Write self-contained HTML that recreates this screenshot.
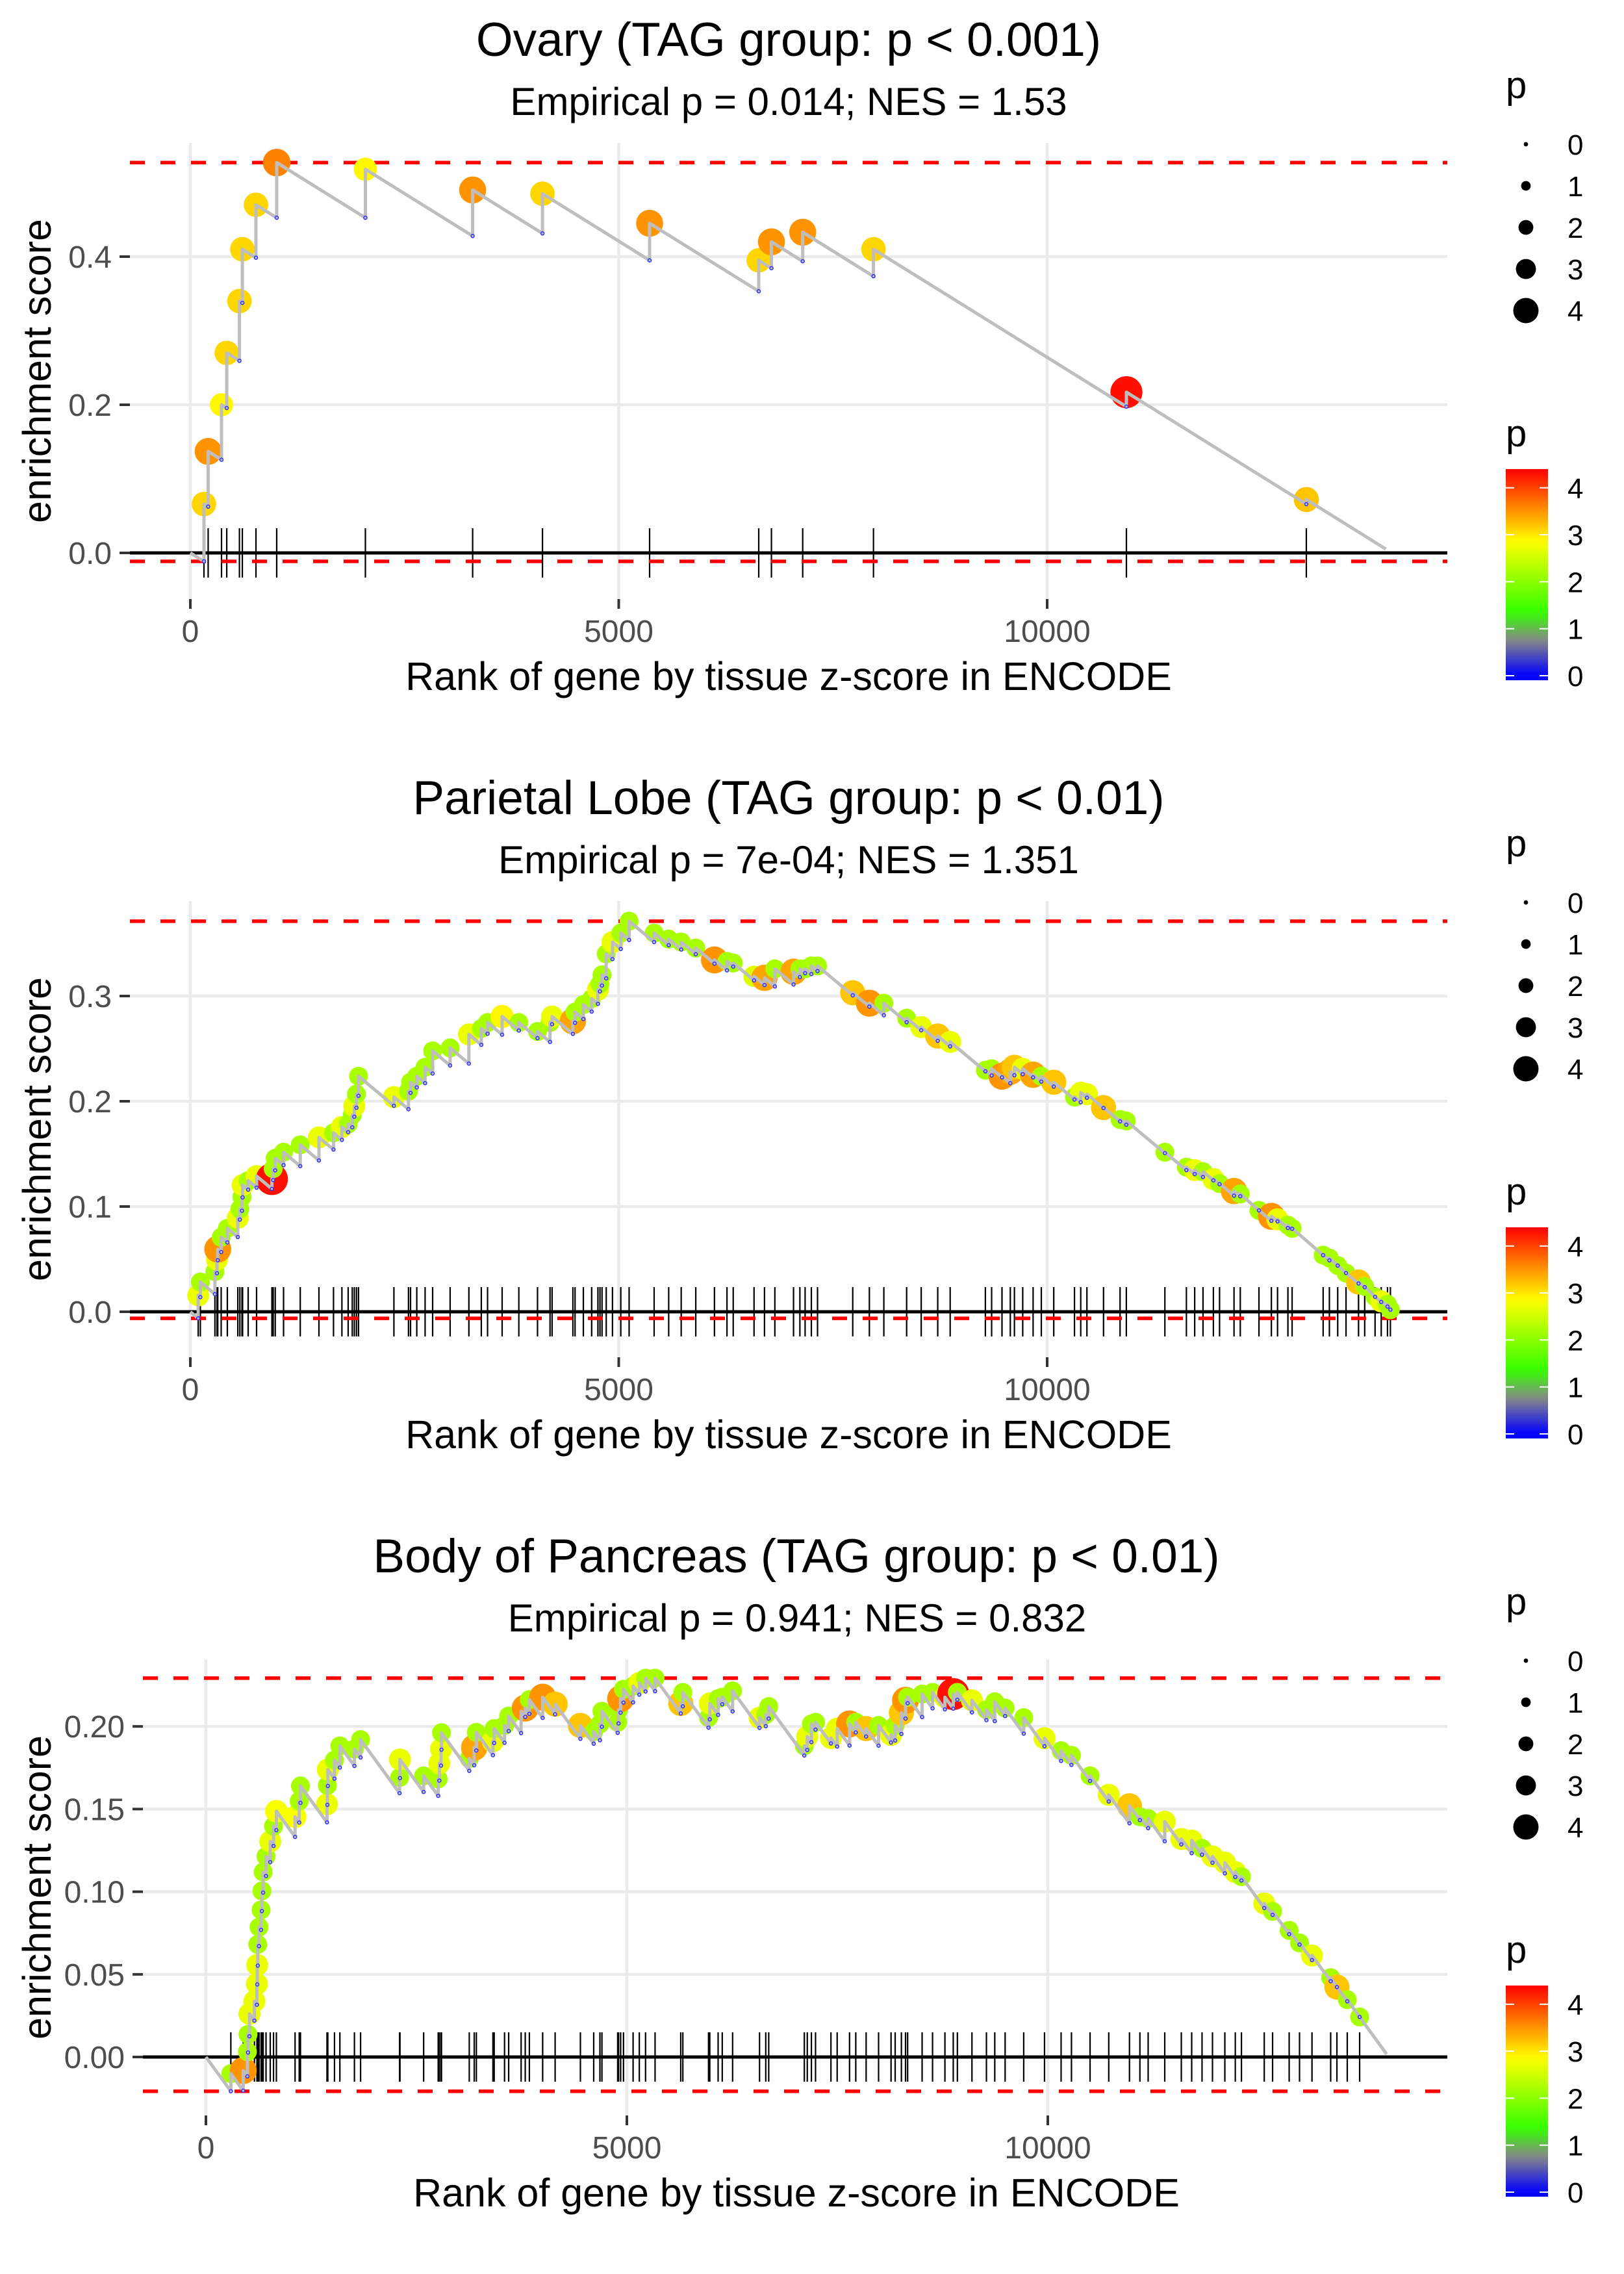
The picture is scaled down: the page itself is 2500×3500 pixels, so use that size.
<!DOCTYPE html>
<html><head><meta charset="utf-8">
<style>
html,body{margin:0;padding:0;background:#fff;}
svg{display:block;font-family:"Liberation Sans",Arial,sans-serif;}
</style></head>
<body>
<svg id="chart" xmlns="http://www.w3.org/2000/svg" width="2500" height="3500" viewBox="0 0 2500 3500">
<defs>
<linearGradient id="pgrad" x1="0" y1="1" x2="0" y2="0"></linearGradient>
</defs>
<rect x="0" y="0" width="2500" height="3500" fill="#fff"/>
<g>
<text x="1214" y="86" font-size="73" text-anchor="middle">Ovary (TAG group: p &lt; 0.001)</text>
<text x="1214" y="177" font-size="60" text-anchor="middle">Empirical p = 0.014; NES = 1.53</text>
<text x="1214" y="1062" font-size="61" text-anchor="middle">Rank of gene by tissue z-score in ENCODE</text>
<text transform="translate(78,571) rotate(-90)" font-size="61" text-anchor="middle">enrichment score</text>
</g>
<g>
<text x="1214" y="1253" font-size="73" text-anchor="middle">Parietal Lobe (TAG group: p &lt; 0.01)</text>
<text x="1214" y="1344" font-size="60" text-anchor="middle">Empirical p = 7e-04; NES = 1.351</text>
<text x="1214" y="2229" font-size="61" text-anchor="middle">Rank of gene by tissue z-score in ENCODE</text>
<text transform="translate(78,1738) rotate(-90)" font-size="61" text-anchor="middle">enrichment score</text>
</g>
<g>
<text x="1226" y="2420" font-size="73" text-anchor="middle">Body of Pancreas (TAG group: p &lt; 0.01)</text>
<text x="1227" y="2511" font-size="60" text-anchor="middle">Empirical p = 0.941; NES = 0.832</text>
<text x="1226" y="3396" font-size="61" text-anchor="middle">Rank of gene by tissue z-score in ENCODE</text>
<text transform="translate(78,2905) rotate(-90)" font-size="61" text-anchor="middle">enrichment score</text>
</g>
</svg>
<script>
// ---------- data ----------
const xTickValues = [0, 5000, 10000];
const xTickLabels = ['0', '5000', '10000'];
const legendSizeValues = [0, 1, 2, 3, 4];
const legendColorValues = [0, 1, 2, 3, 4];

const p1YTicks = [0, 0.2, 0.4];
const p1YLabels = ['0.0', '0.2', '0.4'];
const p1Rank = [159,208,364,425,573,607,766,1008,2043,3295,4110,5360,6634,6782,7147,7973,10925,13025];
const p1ES = [0.066,0.137,0.200,0.270,0.340,0.410,0.470,0.527,0.518,0.490,0.485,0.445,0.395,0.420,0.433,0.410,0.217,0.072];
const p1P = [3.1,3.5,2.9,3.1,3.1,3.1,3.1,3.6,2.9,3.5,3.1,3.5,3.1,3.5,3.5,3.1,4.3,3.2];
const p1End = 13953;

const p2YTicks = [0, 0.1, 0.2, 0.3];
const p2YLabels = ['0.0', '0.1', '0.2', '0.3'];
const p2Rank = [92,117,287,311,320,360,432,554,578,603,610,675,773,952,967,991,1088,1283,1501,1671,1769,1842,1890,1914,1939,1963,
2376,2546,2570,2643,2740,2828,3032,3251,3396,3469,3639,3834,4052,4198,4222,4465,4490,4587,4684,4757,4781,4805,4854,4927,5024,5121,
5413,5583,5729,5899,6117,6263,6336,6579,6701,6822,7040,7114,7175,7248,7320,7731,7925,8094,8360,8530,8723,8868,
9279,9352,9473,9570,9618,9715,9836,9932,10077,10319,10392,10464,10658,10851,10924,11374,11625,11722,11819,11940,12012,12181,12254,
12472,12617,12689,12810,12859,13221,13294,13391,13488,13634,13706,13827,13899,13972,14006];
const p2ES = [0.0156,0.0283,0.0382,0.0496,0.0595,0.0708,0.0793,0.0892,0.0977,0.1091,0.1204,0.1246,0.1289,0.1261,0.136,0.1459,0.1516,0.1586,0.1657,0.170,0.1756,0.1785,0.187,0.1955,0.2068,0.2238,
0.204,0.2096,0.2181,0.2238,0.2323,0.2479,0.2507,0.2635,0.2691,0.2748,0.2805,0.2748,0.2663,0.2748,0.2805,0.2762,0.2847,0.2918,0.2975,0.306,0.3116,0.3201,0.34,0.3513,0.3598,0.3711,
0.3598,0.3541,0.3513,0.3456,0.3343,0.3329,0.3314,0.3187,0.3173,0.3258,0.323,0.3258,0.3258,0.3286,0.3286,0.3031,0.2932,0.2932,0.279,0.2705,0.262,0.2564,
0.2295,0.2309,0.2238,0.228,0.2323,0.2309,0.2252,0.2238,0.2181,0.204,0.2082,0.2068,0.194,0.1827,0.1813,0.1516,0.1374,0.1346,0.1331,0.1261,0.1218,0.1147,0.1119,
0.0963,0.0907,0.0878,0.0822,0.0793,0.0538,0.051,0.0439,0.0368,0.0283,0.0241,0.0142,0.0099,0.0071,0.002];
const p2P = [2.7,2.2,2.2,2.7,3.5,2.2,2.2,2.7,2.2,2.2,2.7,2.2,2.7,4.3,2.2,2.2,2.2,2.2,2.7,2.2,2.7,2.2,2.2,2.7,2.2,2.2,
2.7,2.2,2.2,2.2,2.2,2.2,2.2,2.7,2.2,2.2,2.9,2.2,2.2,2.2,2.7,3.4,2.2,2.2,2.2,2.7,2.2,2.2,2.2,2.7,2.2,2.2,
2.2,2.2,2.2,2.2,3.5,2.2,2.2,2.6,3.4,2.2,3.4,2.2,2.2,2.2,2.2,3.2,3.5,2.2,2.2,2.7,3.2,2.7,
2.2,2.2,3.5,3.4,3.2,2.7,3.4,2.2,3.2,2.2,2.7,2.7,3.2,2.2,2.2,2.2,2.2,2.7,2.2,2.7,2.2,3.4,2.2,
2.2,3.5,2.7,2.2,2.2,2.2,2.2,2.2,2.2,3.2,2.2,2.2,2.7,2.2,2.2];
const p2End = 14030;

const p3YTicks = [0, 0.05, 0.1, 0.15, 0.2];
const p3YLabels = ['0.00', '0.05', '0.10', '0.15', '0.20'];
const p3Rank = [296,443,493,500,517,576,606,610,616,631,655,665,680,714,764,803,837,1059,1108,1123,1438,1443,1448,1527,1591,1764,1837,
2300,2305,2586,2759,2773,2793,2798,3128,3187,3212,3409,3424,3547,3596,3744,3793,3842,4000,4148,4448,4606,4680,4704,4891,4901,4926,4960,5074,5148,5222,5335,
5640,5665,5970,5985,6084,6133,6256,6576,6650,6685,7108,7143,7192,7241,7424,7498,7645,7719,7842,7990,8138,8187,8261,8310,8335,8507,8631,8778,8877,8926,
9099,9271,9370,9493,9714,9961,10158,10281,10502,10724,10970,11094,11192,11389,11586,11709,11832,11956,12103,12227,12300,12571,12670,12867,12990,13138,13360,13434,13557,13704];
const p3ES = [-0.0101,-0.0082,0.0032,0.0137,0.0261,0.0337,0.0442,0.0557,0.0681,0.0786,0.089,0.1005,0.1119,0.1214,0.1304,0.1396,0.1487,0.1453,0.1548,0.164,0.1529,0.1643,0.1739,0.1796,0.1882,0.1863,0.192,
0.1691,0.18,0.1701,0.1682,0.1777,0.1863,0.1962,0.1806,0.1872,0.1964,0.191,0.1987,0.2006,0.2063,0.2092,0.2111,0.2162,0.2177,0.2135,0.2006,0.1968,0.2015,0.2092,0.2025,0.2101,0.2168,0.2225,0.2244,0.2263,0.2292,0.2292,
0.2139,0.2206,0.2053,0.2139,0.2168,0.2177,0.2215,0.2053,0.2072,0.212,0.1882,0.1939,0.2015,0.2025,0.193,0.1987,0.2015,0.2025,0.1987,0.2006,0.1949,0.2006,0.2082,0.2158,0.2177,0.2196,0.2206,0.2177,0.2196,0.2206,
0.2158,0.2101,0.2149,0.2111,0.2053,0.1929,0.1853,0.1825,0.1701,0.1586,0.152,0.1453,0.1443,0.1424,0.1319,0.131,0.1262,0.1214,0.1176,0.1119,0.1091,0.0929,0.0881,0.0766,0.069,0.0614,0.048,0.0423,0.0347,0.0242];
const p3P = [2.2,3.5,2.2,2.2,2.7,2.7,2.7,2.7,2.2,2.2,2.2,2.2,2.2,2.2,2.7,2.2,2.8,2.8,2.2,2.2,2.7,2.2,2.7,2.2,2.2,2.2,2.2,
2.2,2.7,2.2,2.2,2.7,2.7,2.2,2.2,3.4,2.2,2.7,2.2,2.2,2.2,2.2,3.5,2.2,3.5,3.2,3.2,2.2,2.2,2.2,2.2,2.2,3.5,2.2,2.2,2.7,2.2,2.2,
3.2,2.2,2.2,2.7,2.2,2.2,2.2,2.7,2.2,2.2,2.2,2.7,2.2,2.2,2.7,2.7,3.5,2.2,3.2,2.2,2.7,2.2,3.2,3.5,2.2,2.2,2.2,2.7,4.3,2.2,
2.7,2.2,2.2,2.2,2.2,2.7,2.2,2.2,2.2,2.7,3.2,2.2,2.2,2.7,2.7,2.7,2.2,2.7,2.7,2.7,2.2,2.7,2.2,2.2,2.2,2.7,2.2,3.2,2.2,2.2];
const p3End = 14025;

// ---------- helpers ----------
const NS = 'http://www.w3.org/2000/svg';
const svg = document.getElementById('chart');
function mk(tag, attrs, parent) {
  const e = document.createElementNS(NS, tag);
  for (const k in attrs) e.setAttribute(k, attrs[k]);
  parent.appendChild(e);
  return e;
}
const colStops = [[0,[0,0,255]],[0.75,[136,136,136]],[1.35,[51,255,0]],[2.85,[255,255,0]],[4.39,[255,0,0]]];
function pColor(v) {
  if (v <= colStops[0][0]) return 'rgb(0,0,255)';
  for (let i = 1; i < colStops.length; i++) {
    if (v <= colStops[i][0]) {
      const a = colStops[i-1], b = colStops[i];
      const t = (v - a[0]) / (b[0] - a[0]);
      const c = a[1].map((x, j) => Math.round(x + (b[1][j] - x) * t));
      return 'rgb(' + c.join(',') + ')';
    }
  }
  return 'rgb(255,0,0)';
}
function pRadius(v) { return 3.5 + 4.25 * v; }
function dotRadius(v) { return 4 + 4.8 * v; }

const grad = document.getElementById('pgrad');
for (let i = 0; i <= 30; i++) {
  const v = -0.1 + (4.49 * i / 30);
  mk('stop', {offset: (i / 30).toFixed(4), 'stop-color': pColor(v)}, grad);
}

function drawPanel(cfg) {
  const g = mk('g', {}, svg);
  
  
  const X = r => cfg.x0 + r * cfg.xs;
  const Y = v => cfg.y0 - v * cfg.ys;

  cfg.yTicks.forEach((v, i) => {
    const l = mk('line', {x1: cfg.left, x2: cfg.right, y1: Y(v), y2: Y(v), stroke: '#ebebeb', 'stroke-width': 4.5}, g);
    
    
    const t = mk('line', {x1: cfg.left - 16, x2: cfg.left, y1: Y(v), y2: Y(v), stroke: '#333', 'stroke-width': 4}, g);
    
    
    const tx = mk('text', {x: cfg.left - 28, y: Y(v) + 17, 'font-size': 48, fill: '#4d4d4d', 'text-anchor': 'end'}, g);
    tx.textContent = cfg.yLabels[i];
    
    
  });
  xTickValues.forEach((v, i) => {
    const l = mk('line', {x1: X(v), x2: X(v), y1: cfg.top, y2: cfg.bottom, stroke: '#ebebeb', 'stroke-width': 4.5}, g);
    
    
    const t = mk('line', {x1: X(v), x2: X(v), y1: cfg.bottom, y2: cfg.bottom + 15, stroke: '#333', 'stroke-width': 4}, g);
    
    
    const tx = mk('text', {x: X(v), y: cfg.bottom + 66, 'font-size': 48, fill: '#4d4d4d', 'text-anchor': 'middle'}, g);
    tx.textContent = xTickLabels[i];
    
    
  });

  const pts = [[0, 0]];
  const bottoms = [];
  let pr = 0, pt = 0;
  for (let i = 0; i < cfg.rank.length; i++) {
    const r = cfg.rank[i], top = cfg.es[i];
    const b = Math.min(pt - cfg.decay * (r - pr), top);
    bottoms.push([r, b]);
    pts.push([r, b], [r, top]);
    pr = r; pt = top;
  }
  pts.push([cfg.end, Math.max(pt - cfg.decay * (cfg.end - pr), 0)]);
  const maxES = Math.max(...cfg.es);
  const minES = Math.min(...bottoms.map(b => b[1]));

  cfg.rank.forEach(r => {
    const l = mk('line', {x1: X(r), x2: X(r), y1: Y(0) - 38, y2: Y(0) + 38, stroke: '#000', 'stroke-width': 2.2}, g);
    
    
  });
  const z = mk('line', {x1: cfg.left, x2: cfg.right, y1: Y(0), y2: Y(0), stroke: '#000', 'stroke-width': 5}, g);
  
  
  const dmax = mk('line', {x1: cfg.left, x2: cfg.right, y1: Y(maxES), y2: Y(maxES), stroke: '#ff0000', 'stroke-width': 5.5, 'stroke-dasharray': '23 24'}, g);
  
  
  const dmin = mk('line', {x1: cfg.left, x2: cfg.right, y1: Y(minES), y2: Y(minES), stroke: '#ff0000', 'stroke-width': 5.5, 'stroke-dasharray': '23 24'}, g);
  
  

  cfg.rank.forEach((r, i) => {
    const c = mk('circle', {cx: X(r), cy: Y(cfg.es[i]), r: dotRadius(cfg.p[i]), fill: pColor(cfg.p[i])}, g);
    
    
  });
  const path = mk('polyline', {points: pts.map(p => X(p[0]).toFixed(1) + ',' + Y(p[1]).toFixed(1)).join(' '), fill: 'none', stroke: '#bebebe', 'stroke-width': 5, 'stroke-linejoin': 'round'}, g);
  
  
  bottoms.forEach(b => {
    const c = mk('circle', {cx: X(b[0]), cy: Y(b[1]), r: 2.5, fill: 'none', stroke: '#3030ff', 'stroke-width': 1.5}, g);
    
    
  });

  const off = cfg.off;
  const lg = mk('g', {}, svg);
  
  
  const st = mk('text', {x: 2318, y: 151 + off, 'font-size': 58}, lg);
  st.textContent = 'p';
  
  
  legendSizeValues.forEach((v, i) => {
    const cy = 222 + 64 * i + off;
    const c = mk('circle', {cx: 2349, cy: cy, r: pRadius(v) * 0.95, fill: '#000'}, lg);
    
    
    const t = mk('text', {x: 2413, y: cy + 16, 'font-size': 44}, lg);
    t.textContent = String(v);
    
    
  });
  const cg = mk('g', {}, svg);
  
  
  const ct = mk('text', {x: 2318, y: 687 + off, 'font-size': 58}, cg);
  ct.textContent = 'p';
  
  
  const bar = mk('rect', {x: 2318, y: 722 + off, width: 65, height: 325, fill: 'url(#pgrad)'}, cg);
  
  
  legendColorValues.forEach(v => {
    const yy = 1040 - 72.3 * v + off;
    const a = mk('line', {x1: 2318, x2: 2331, y1: yy, y2: yy, stroke: '#fff', 'stroke-width': 2}, cg);
    
    
    const b = mk('line', {x1: 2370, x2: 2383, y1: yy, y2: yy, stroke: '#fff', 'stroke-width': 2}, cg);
    
    
    const t = mk('text', {x: 2413, y: yy + 16, 'font-size': 44}, cg);
    t.textContent = String(v);
    
    
  });
}

drawPanel({name: 'ovary', off: 0, left: 200, right: 2228, top: 220, bottom: 922, x0: 293, xs: 0.1319, y0: 851, ys: 1140, decay: 7.2e-5,
  rank: p1Rank, es: p1ES, p: p1P, end: p1End, yTicks: p1YTicks, yLabels: p1YLabels});
drawPanel({name: 'parietal', off: 1167, left: 200, right: 2228, top: 1387, bottom: 2089, x0: 293, xs: 0.1319, y0: 2019, ys: 1620, decay: 6.8e-5,
  rank: p2Rank, es: p2ES, p: p2P, end: p2End, yTicks: p2YTicks, yLabels: p2YLabels});
drawPanel({name: 'pancreas', off: 2334, left: 220, right: 2228, top: 2554, bottom: 3256, x0: 317, xs: 0.1296, y0: 3166, ys: 2544, decay: 7e-5,
  rank: p3Rank, es: p3ES, p: p3P, end: p3End, yTicks: p3YTicks, yLabels: p3YLabels});
</script>
</body></html>
